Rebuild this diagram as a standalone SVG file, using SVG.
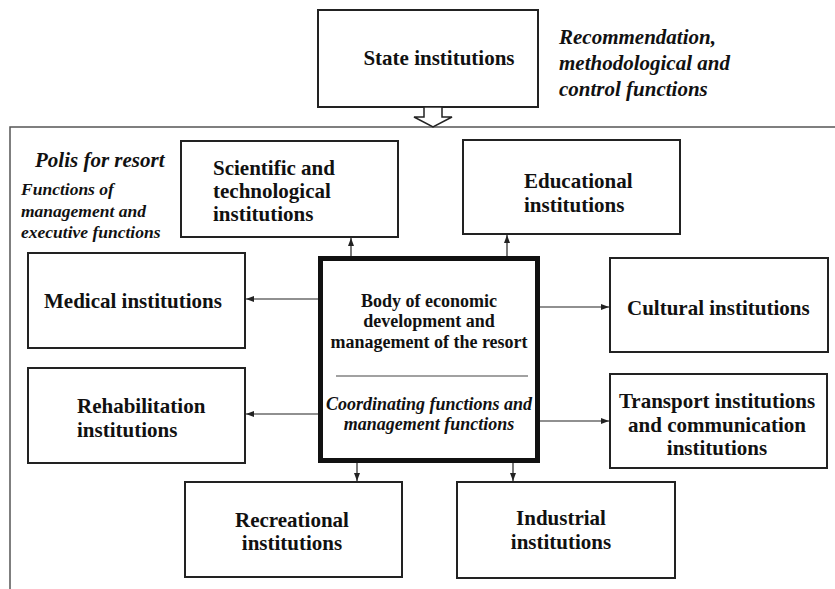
<svg xmlns="http://www.w3.org/2000/svg" width="835" height="589" viewBox="0 0 835 589">
<style>
.box{fill:#fff;stroke:#222;stroke-width:2}
.t{font-family:"Liberation Serif","Times New Roman",serif;font-weight:bold;font-size:21px;fill:#111}
.s{font-size:18px}
.i{font-style:italic}
.c{text-anchor:middle}
.conn{stroke:#222;stroke-width:1.2;fill:none;marker-end:url(#ah)}
.frame{stroke:#555;stroke-width:1.5;fill:none}
</style>
<defs>
<marker id="ah" markerWidth="8" markerHeight="6" refX="8" refY="3" orient="auto" markerUnits="userSpaceOnUse">
<path d="M0,0 L8,3 L0,6 z" fill="#222"/>
</marker>
</defs>
<rect width="835" height="589" fill="#fff"/>
<g id="frame">
<path class="frame" d="M10,589 V127 H835"/>
</g>
<g id="state">
<rect class="box" x="318" y="10" width="220" height="97"/>
<text class="t c" x="439" y="65">State institutions</text>
</g>
<g id="state-functions">
<text class="t i" x="559" y="44">Recommendation,</text>
<text class="t i" x="559" y="70">methodological and</text>
<text class="t i" x="559" y="96">control functions</text>
</g>
<g id="transfer-arrow">
<polygon points="424,107 442,107 442,117 452,117 433,127 414,117 424,117" fill="#fff" stroke="#222" stroke-width="1.5"/>
</g>
<g id="polis">
<text class="t i" x="35" y="167">Polis for resort</text>
<text class="t i" x="21" y="195" style="font-size:17.5px">Functions of</text>
<text class="t i" x="21" y="217" style="font-size:17.5px">management and</text>
<text class="t i" x="21" y="238" style="font-size:17.5px">executive functions</text>
</g>
<g id="scientific">
<rect class="box" x="181" y="141" width="217" height="96"/>
<text class="t" x="213" y="175">Scientific and</text>
<text class="t" x="213" y="198">technological</text>
<text class="t" x="213" y="221">institutions</text>
</g>
<g id="educational">
<rect class="box" x="463" y="140" width="217" height="94"/>
<text class="t" x="524" y="188">Educational</text>
<text class="t" x="524" y="212">institutions</text>
</g>
<g id="medical">
<rect class="box" x="28" y="253" width="217" height="95"/>
<text class="t" x="44" y="308">Medical institutions</text>
</g>
<g id="cultural">
<rect class="box" x="610" y="258" width="218" height="94"/>
<text class="t" x="627" y="315">Cultural institutions</text>
</g>
<g id="body">
<rect x="320.5" y="258.5" width="217" height="202" fill="#fff" stroke="#111" stroke-width="5"/>
<text class="t s c" x="429" y="307">Body of economic</text>
<text class="t s c" x="429" y="327">development and</text>
<text class="t s c" x="429" y="348">management of the resort</text>
<line x1="336" y1="376" x2="528" y2="376" stroke="#444" stroke-width="1.2"/>
<text class="t s i c" x="429" y="410">Coordinating functions and</text>
<text class="t s i c" x="429" y="430">management functions</text>
</g>
<g id="rehabilitation">
<rect class="box" x="28" y="368" width="217" height="95"/>
<text class="t" x="77" y="413">Rehabilitation</text>
<text class="t" x="77" y="437">institutions</text>
</g>
<g id="transport">
<rect class="box" x="610" y="374" width="217" height="94"/>
<text class="t c" x="717" y="408">Transport institutions</text>
<text class="t c" x="717" y="432">and communication</text>
<text class="t c" x="717" y="455">institutions</text>
</g>
<g id="recreational">
<rect class="box" x="185" y="482" width="217" height="95"/>
<text class="t c" x="292" y="527">Recreational</text>
<text class="t c" x="292" y="550">institutions</text>
</g>
<g id="industrial">
<rect class="box" x="457" y="482" width="218" height="96"/>
<text class="t c" x="561" y="525">Industrial</text>
<text class="t c" x="561" y="549">institutions</text>
</g>
<g id="connectors">
<line class="conn" x1="351" y1="256" x2="351" y2="238"/>
<line class="conn" x1="507" y1="256" x2="507" y2="235"/>
<line class="conn" x1="318" y1="299" x2="246" y2="299"/>
<line class="conn" x1="318" y1="414" x2="246" y2="414"/>
<line class="conn" x1="540" y1="307" x2="609" y2="307"/>
<line class="conn" x1="540" y1="421" x2="609" y2="421"/>
<line class="conn" x1="357" y1="463" x2="357" y2="481"/>
<line class="conn" x1="513" y1="463" x2="513" y2="481"/>
</g>
</svg>
